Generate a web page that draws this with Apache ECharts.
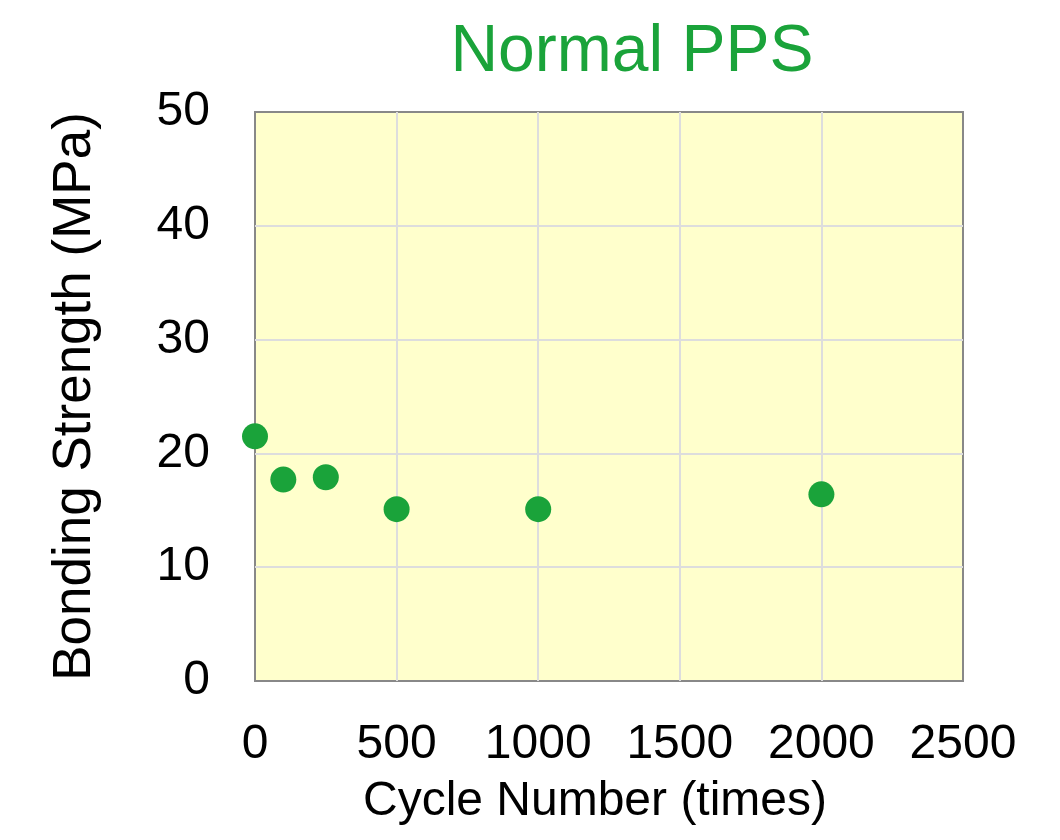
<!DOCTYPE html>
<html>
<head>
<meta charset="utf-8">
<script src="https://cdn.jsdelivr.net/npm/echarts@6/dist/echarts.min.js"></script>
<style>
  html, body { margin: 0; padding: 0; background: #fff; }
  #chart { width: 1060px; height: 840px; }
</style>
</head>
<body>
<div id="chart"></div>
<script>
// cycle number vs bonding strength
const cycles = [0, 100, 250, 500, 1000, 2000]
const strength = [21.5, 17.7, 17.9, 15.1, 15.1, 16.4]

const green = '#1aa33a'
const font = '"Liberation Sans", Arial, sans-serif'

const chart = echarts.init(document.getElementById('chart'))

const gridLine = { show: true, showMinLine: false, showMaxLine: false, lineStyle: { color: '#ddd', width: 2 } }

chart.setOption({
  animation: false,
  title: {
    text: 'Normal PPS',
    left: 627,
    top: 15,
    textAlign: 'center',
    textStyle: { color: green, fontSize: 66, fontWeight: 'normal', fontFamily: font }
  },
  grid: {
    left: 255,
    right: 97,
    top: 112,
    bottom: 159,
    show: true,
    backgroundColor: '#ffffcc',
    borderColor: '#888',
    borderWidth: 2
  },
  xAxis: {
    type: 'value',
    min: 0,
    max: 2500,
    interval: 500,
    name: 'Cycle Number (times)',
    nameLocation: 'middle',
    nameGap: 97,
    nameTextStyle: { color: '#000', fontSize: 48, fontFamily: font, padding: [0, 28, 0, 0] },
    axisLine: { show: false },
    axisTick: { show: false },
    axisLabel: { color: '#000', fontSize: 48, fontFamily: font, margin: 40, formatter: v => String(v) },
    splitLine: gridLine
  },
  yAxis: {
    type: 'value',
    min: 0,
    max: 50,
    interval: 10,
    name: 'Bonding Strength (MPa)',
    nameLocation: 'middle',
    nameGap: 153,
    nameTextStyle: { color: '#000', fontSize: 53, fontFamily: font },
    axisLine: { show: false },
    axisTick: { show: false },
    axisLabel: { color: '#000', fontSize: 48, fontFamily: font, margin: 45 },
    splitLine: gridLine
  },
  series: [{
    type: 'scatter',
    data: cycles.map((c, i) => [c, strength[i]]),
    symbolSize: 26,
    itemStyle: { color: green, opacity: 1 }
  }]
})
</script>
</body>
</html>
